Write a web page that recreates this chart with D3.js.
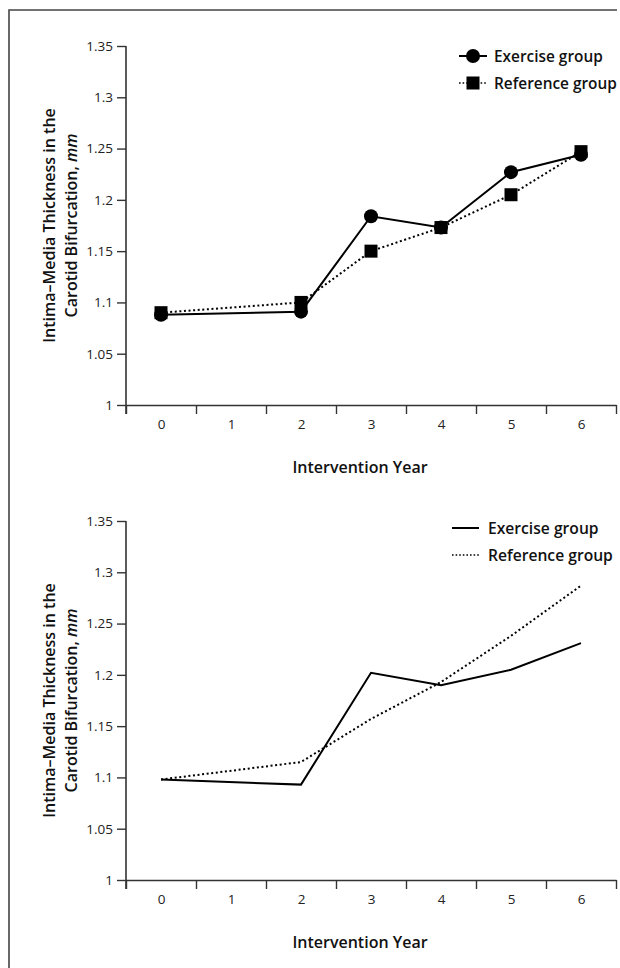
<!DOCTYPE html>
<html>
<head>
<meta charset="utf-8">
<script src="https://cdn.jsdelivr.net/npm/d3@7"></script>
<style>
  html, body { margin: 0; padding: 0; background: #fff; }
  svg { display: block; }
</style>
</head>
<body>
<svg id="chart" width="620" height="968"></svg>
<script>
// ---- data ----
const years = [0, 2, 3, 4, 5, 6];
const xCategories = ["0", "1", "2", "3", "4", "5", "6"];
const yTickValues = [1, 1.05, 1.1, 1.15, 1.2, 1.25, 1.3, 1.35];
const yTickLabels = ["1", "1.05", "1.1", "1.15", "1.2", "1.25", "1.3", "1.35"];
const exerciseTop = [1.088, 1.091, 1.184, 1.173, 1.227, 1.244];
const referenceTop = [1.090, 1.100, 1.150, 1.173, 1.205, 1.247];
const exerciseBottom = [1.098, 1.093, 1.202, 1.190, 1.205, 1.231];
const referenceBottom = [1.098, 1.115, 1.157, 1.193, 1.238, 1.287];
const seriesNames = ["Exercise group", "Reference group"];
const xTitle = "Intervention Year";
const yTitle1 = "Intima\u2013Media Thickness in the";
const yTitle2a = "Carotid Bifurcation, ";
const yTitle2b = "mm";

const svg = d3.select("#chart");
const FONT = "'Open Sans', 'Noto Sans', sans-serif";
const AXIS = "#333";
const INK = "#111";

// frame
svg.append("path")
  .attr("d", "M9,968 L9,10 L617,10")
  .attr("fill", "none").attr("stroke", "#444").attr("stroke-width", 1.6);

function panel(yTop, yBottom, exercise, reference, markers, legend) {
  const g = svg.append("g");
  const x = d3.scaleLinear().domain([-0.5, 6.5]).range([126, 616]);
  const y = d3.scaleLinear().domain([1, 1.35]).range([yBottom, yTop]);

  // y axis
  const ya = g.append("g").attr("transform", "translate(126,0)")
    .call(d3.axisLeft(y).tickValues(yTickValues)
      .tickFormat((d, i) => yTickLabels[i]).tickSize(9).tickPadding(4).tickSizeOuter(0));
  ya.select(".domain").attr("stroke", AXIS).attr("stroke-width", 1.6)
    .attr("d", `M0,${yTop}V${yBottom + 9}`);
  ya.selectAll(".tick line").attr("stroke", AXIS).attr("stroke-width", 1.4);
  ya.selectAll(".tick text").attr("font-family", FONT).attr("font-size", 13.5)
    .attr("fill", "#222");

  // x axis: boundary ticks
  const xb = g.append("g").attr("transform", `translate(0,${yBottom})`)
    .call(d3.axisBottom(x).tickValues(d3.range(-0.5, 7, 1)).tickFormat("").tickSize(9).tickSizeOuter(0));
  xb.select(".domain").attr("stroke", AXIS).attr("stroke-width", 1.6);
  xb.selectAll(".tick line").attr("stroke", AXIS).attr("stroke-width", 1.4);
  // x labels at centres
  const xl = g.append("g").attr("transform", `translate(0,${yBottom})`)
    .call(d3.axisBottom(x).tickValues(xCategories.map(Number))
      .tickFormat((d, i) => xCategories[i]).tickSize(0).tickPadding(14));
  xl.select(".domain").remove();
  xl.selectAll(".tick text").attr("font-family", FONT).attr("font-size", 13.5).attr("fill", "#222");

  // titles
  g.append("text").attr("x", 360).attr("y", yBottom + 68)
    .attr("text-anchor", "middle").attr("font-family", FONT).attr("font-weight", 600)
    .attr("font-size", 16).attr("fill", INK).text(xTitle);
  const cy = (yTop + yBottom) / 2;
  g.append("text").attr("transform", `translate(55,${cy}) rotate(-90)`)
    .attr("text-anchor", "middle").attr("font-family", FONT).attr("font-weight", 600)
    .attr("font-size", 16).attr("fill", INK).text(yTitle1);
  const t2 = g.append("text").attr("transform", `translate(77,${cy}) rotate(-90)`)
    .attr("text-anchor", "middle").attr("font-family", FONT).attr("font-weight", 600)
    .attr("font-size", 16).attr("fill", INK);
  t2.append("tspan").text(yTitle2a);
  t2.append("tspan").attr("font-style", "italic").text(yTitle2b);

  const line = d3.line().x((d, i) => x(years[i])).y(d => y(d));
  g.append("path").datum(reference).attr("d", line).attr("fill", "none")
    .attr("stroke", "#000").attr("stroke-width", 2).attr("stroke-dasharray", "2,2.6");
  g.append("path").datum(exercise).attr("d", line).attr("fill", "none")
    .attr("stroke", "#000").attr("stroke-width", 2);

  if (markers) {
    g.selectAll(".sq").data(reference).join("rect")
      .attr("x", (d, i) => x(years[i]) - 6.5).attr("y", d => y(d) - 6.5)
      .attr("width", 13).attr("height", 13).attr("fill", "#000");
    g.selectAll(".ci").data(exercise).join("circle")
      .attr("cx", (d, i) => x(years[i])).attr("cy", d => y(d)).attr("r", 7).attr("fill", "#000");
  }

  // legend
  const L = legend;
  const lg = g.append("g");
  lg.append("line").attr("x1", L.x1).attr("x2", L.x2).attr("y1", L.y).attr("y2", L.y)
    .attr("stroke", "#000").attr("stroke-width", 2);
  lg.append("line").attr("x1", L.x1).attr("x2", L.x2).attr("y1", L.y + L.dy).attr("y2", L.y + L.dy)
    .attr("stroke", "#000").attr("stroke-width", 1.6).attr("stroke-dasharray", "1.6,2");
  if (markers) {
    const mx = (L.x1 + L.x2) / 2;
    lg.append("circle").attr("cx", mx).attr("cy", L.y).attr("r", 7).attr("fill", "#000");
    lg.append("rect").attr("x", mx - 6.5).attr("y", L.y + L.dy - 6.5).attr("width", 13).attr("height", 13).attr("fill", "#000");
  }
  const texts = seriesNames.map((s, i) =>
    lg.append("text").attr("x", L.tx).attr("y", L.y + i * L.dy + 6)
      .attr("font-family", FONT).attr("font-weight", 600).attr("font-size", 16)
      .attr("fill", INK).text(s));
  // fit: the longer label should span L.w pixels
  const wMax = d3.max(texts, t => t.node().getComputedTextLength());
  const fs = Math.min(16, 16 * L.w / wMax);
  texts.forEach(t => t.attr("font-size", fs).attr("y", +t.attr("y") - 0.5 * (16 - fs) * 0.36));
}

panel(46, 405, exerciseTop, referenceTop, true, { x1: 459, x2: 487, y: 56, dy: 27, tx: 494, w: 123 });
panel(521, 880, exerciseBottom, referenceBottom, false, { x1: 452, x2: 479, y: 528, dy: 27, tx: 488, w: 125 });
</script>
</body>
</html>
